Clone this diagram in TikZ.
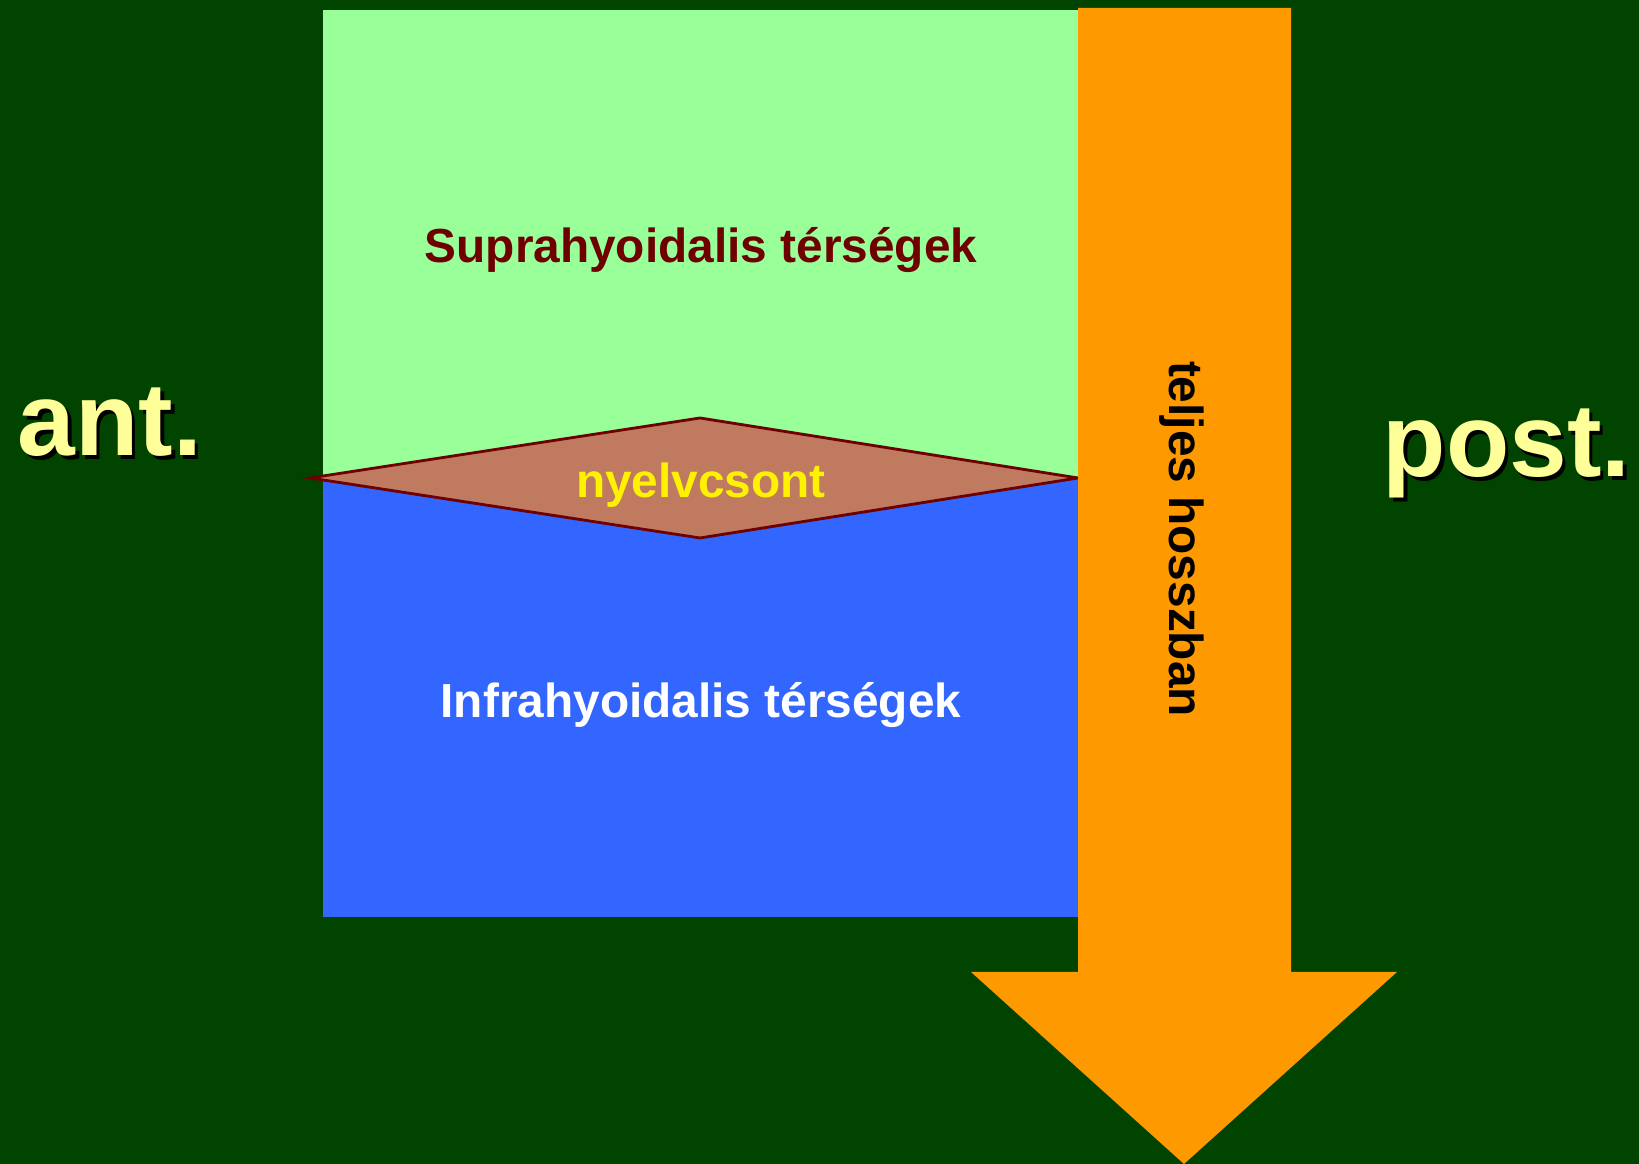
\documentclass[tikz,border=0pt]{standalone}
\usepackage{fontspec}
\setmainfont{Liberation Sans}
\usepackage{xcolor}
\definecolor{bgreen}{RGB}{0,68,0}
\definecolor{lgreen}{RGB}{153,255,153}
\definecolor{mblue}{RGB}{51,102,255}
\definecolor{orng}{RGB}{255,153,0}
\definecolor{bone}{RGB}{191,122,96}
\definecolor{dred}{RGB}{110,0,0}
\definecolor{pyell}{RGB}{255,255,153}
\tikzset{
  lbl/.style={font=\bfseries\fontsize{13.6}{16}\selectfont, inner sep=0pt},
  bigtxt/.style={font=\bfseries\fontsize{29.5}{34}\selectfont, inner sep=0pt, anchor=base west}
}

\begin{document}
\begin{tikzpicture}
        \useasboundingbox (0,0) rectangle (16.39,11.64);
        \fill[bgreen] (0,0) rectangle (16.39,11.64);
        % regions
        \fill[lgreen] (3.23,6.86) rectangle (10.78,11.535);
        \fill[mblue] (3.23,2.47) rectangle (10.78,6.86);
        \filldraw[fill=bone, draw=dred, thick] (3.10,6.86) -- (7.00,7.46) -- (10.78,6.86) -- (7.00,6.26) -- cycle;
        % arrow
        \fill[orng] (10.78,11.56) -- (12.91,11.56) -- (12.91,1.92) -- (13.97,1.92)
                    -- (11.84,0) -- (9.71,1.92) -- (10.78,1.92) -- cycle;
        % labels
        \node[lbl, text=dred] (supra) at (7.01,9.14) {Suprahyoidalis térségek};
        \node[lbl, text=white] (infra) at (7.01,4.59) {Infrahyoidalis térségek};
        \node[lbl, text=yellow] (hyoid) at (7.01,6.79) {nyelvcsont};
        \node[lbl, text=black, rotate=-90] (hossz) at (11.82,6.25) {teljes hosszban};
        \node[bigtxt, text=black] (antsh) at (0.205,7.045) {ant.};
        \node[bigtxt, text=pyell] (ant) at (0.17,7.08) {ant.};
        \node[bigtxt, text=black] (postsh) at (13.855,6.835) {post.};
        \node[bigtxt, text=pyell] (post) at (13.82,6.87) {post.};
    \end{tikzpicture}
\end{document}
